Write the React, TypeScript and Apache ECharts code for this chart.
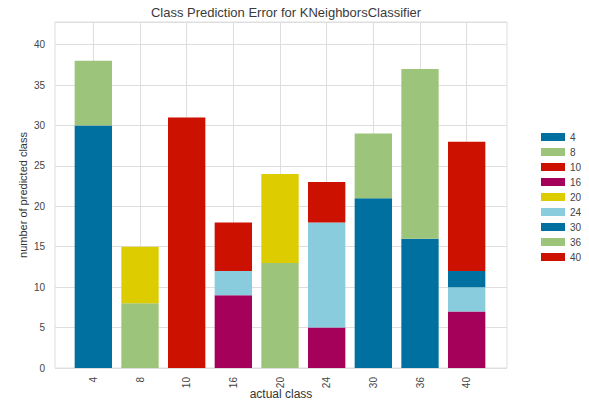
import React, { useEffect, useRef } from "react";
import * as echarts from "echarts";

// Actual classes along the x axis
const categories = ["4", "8", "10", "16", "20", "24", "30", "36", "40"];

// Count of samples predicted as each class, per actual class
const pred4 = [30, 0, 0, 0, 0, 0, 0, 0, 0];
const pred8 = [8, 8, 0, 0, 13, 0, 0, 0, 0];
const pred10 = [0, 0, 31, 0, 0, 0, 0, 0, 0];
const pred16 = [0, 0, 0, 9, 0, 5, 0, 0, 7];
const pred20 = [0, 7, 0, 0, 11, 0, 0, 0, 0];
const pred24 = [0, 0, 0, 3, 0, 13, 0, 0, 3];
const pred30 = [0, 0, 0, 0, 0, 0, 21, 16, 2];
const pred36 = [0, 0, 0, 0, 0, 0, 8, 21, 0];
const pred40 = [0, 0, 0, 6, 0, 5, 0, 0, 16];

const predictedNames = ["4", "8", "10", "16", "20", "24", "30", "36", "40"];
const predictedValues = [pred4, pred8, pred10, pred16, pred20, pred24, pred30, pred36, pred40];

const palette = ["#0070A0", "#9CC47A", "#CC1100", "#A5005A", "#DDCC00", "#88CCDD"];

const Y_MAX = 42.8;
const FONT = "Liberation Sans, Arial, Helvetica, sans-serif";
const GRID_COLOR = "#DEDEDE";

export default function App() {
  const ref = useRef<HTMLDivElement>(null);

  useEffect(() => {
    if (!ref.current) return;
    const chart = echarts.init(ref.current, undefined, { renderer: "svg" });

    const barSeries = predictedNames.map((name, i) => ({
      name,
      type: "bar",
      stack: "total",
      xAxisIndex: 0,
      yAxisIndex: 0,
      barWidth: "80%",
      z: 3,
      itemStyle: { color: palette[i % palette.length] },
      data: predictedValues[i],
    }));

    chart.setOption({
      animation: false,
      backgroundColor: "#ffffff",
      textStyle: { fontFamily: FONT },
      title: {
        text: "Class Prediction Error for KNeighborsClassifier",
        left: 281,
        textAlign: "center",
        top: 1,
        textStyle: { fontFamily: FONT, fontSize: 13, fontWeight: "normal", color: "#3a3a3a" },
      },
      legend: {
        orient: "vertical",
        left: 536,
        top: 126,
        icon: "rect",
        itemWidth: 24,
        itemHeight: 8,
        itemGap: 3,
        data: predictedNames,
        textStyle: { fontFamily: FONT, fontSize: 10, color: "#444", lineHeight: 12 },
      },
      grid: [
        // bars
        { left: 70, top: 22, width: 420, height: 346, show: false },
        // plot frame with horizontal grid lines
        { left: 55, top: 22, width: 452, height: 346, show: true, borderColor: GRID_COLOR, borderWidth: 1, backgroundColor: "transparent" },
      ],
      xAxis: [
        {
          type: "category",
          gridIndex: 0,
          data: categories,
          boundaryGap: true,
          axisLine: { show: false },
          axisTick: { show: false },
          splitLine: { show: false },
          axisLabel: { rotate: 90, fontSize: 10, color: "#444", margin: 9, fontFamily: FONT },
        },
        {
          type: "value",
          gridIndex: 1,
          min: 0,
          max: 1,
          axisLine: { show: false },
          axisTick: { show: false },
          axisLabel: { show: false },
          splitLine: { show: false },
          name: "actual class",
          nameLocation: "middle",
          nameGap: 20,
          nameTextStyle: { fontFamily: FONT, fontSize: 12, color: "#333" },
        },
      ],
      yAxis: [
        {
          type: "value",
          gridIndex: 0,
          min: 0,
          max: Y_MAX,
          show: false,
          splitLine: { show: false },
        },
        {
          type: "value",
          gridIndex: 1,
          min: 0,
          max: Y_MAX,
          interval: 5,
          axisLine: { show: false },
          axisTick: { show: false },
          axisLabel: {
            fontSize: 10,
            color: "#444",
            margin: 10,
            fontFamily: FONT,
            formatter: (v: number) => (v % 5 === 0 ? String(v) : ""),
          },
          splitLine: { show: true, lineStyle: { color: GRID_COLOR, width: 1 } },
          name: "number of predicted class",
          nameLocation: "middle",
          nameGap: 27,
          nameMoveOverlap: false,
          nameTextStyle: { fontFamily: FONT, fontSize: 11, color: "#333" },
        },
      ],
      series: [
        // vertical grid lines at each category centre, beneath the bars
        {
          type: "line",
          xAxisIndex: 0,
          yAxisIndex: 0,
          data: [],
          z: 1,
          silent: true,
          markLine: {
            z: 1,
            silent: true,
            symbol: "none",
            label: { show: false },
            lineStyle: { color: GRID_COLOR, type: "solid", width: 1 },
            data: categories.map((c) => ({ xAxis: c })),
          },
        },
        ...barSeries,
      ],
    });

    return () => chart.dispose();
  }, []);

  return <div ref={ref} style={{ width: 589, height: 407, margin: -8 }} />;
}
